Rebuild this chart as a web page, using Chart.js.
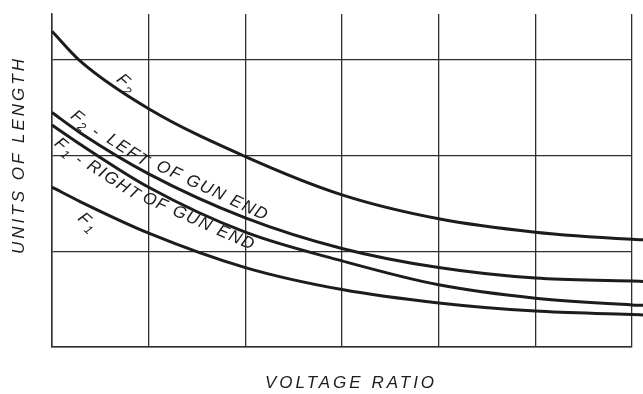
<!DOCTYPE html>
<html>
<head>
<meta charset="utf-8">
<script src="https://cdn.jsdelivr.net/npm/chart.js@4.4.1/dist/chart.umd.min.js"></script>
<style>
  html, body { margin: 0; padding: 0; background: #fff; }
  #wrap { width: 643px; height: 394px; }
</style>
</head>
<body>
<div id="wrap"><canvas id="myChart" width="643" height="394"></canvas></div>
<script>
// voltage ratio positions (grid columns 0..6, last point runs just past the frame)
const ratio = [0, 0.29, 1, 2, 3, 4, 5, 6, 6.12];

// lengths read per curve at each ratio
const f2 = [3.30, 2.99, 2.49, 1.99, 1.59, 1.34, 1.20, 1.125, 1.12];
const f2Left = [2.45, 2.24, 1.81, 1.35, 1.03, 0.83, 0.72, 0.69, 0.685];
const f1Right = [2.32, 2.12, 1.67, 1.20, 0.90, 0.65, 0.51, 0.44, 0.435];
const f1 = [1.67, 1.52, 1.19, 0.83, 0.60, 0.46, 0.375, 0.34, 0.335];

const yTicks = [0, 1, 2, 3];

// curve captions: pieces starting with "_" are subscripts
const captions = [
  { parts: ["F", "_2"], x: 0.77, y: 2.75, angle: 42 },
  { parts: ["F", "_2", " -"], x: 0.35, y: 2.33, angle: 38 },
  { parts: ["LEFT"], x: 0.79, y: 2.05, angle: 33 },
  { parts: ["OF GUN END"], x: 1.66, y: 1.63, angle: 25 },
  { parts: ["F", "_1", " -"], x: 0.18, y: 2.04, angle: 40 },
  { parts: ["RIGHT"], x: 0.64, y: 1.74, angle: 33 },
  { parts: ["OF GUN END"], x: 1.52, y: 1.31, angle: 24 },
  { parts: ["F", "_1"], x: 0.37, y: 1.30, angle: 42 }
];

const ink = "#1c1c1c";
const FONT = "'Liberation Sans', Arial, sans-serif";

function series(values) {
  return {
    data: ratio.map((r, i) => ({ x: r, y: values[i] })),
    borderColor: ink,
    borderWidth: 3,
    pointRadius: 0,
    cubicInterpolationMode: "monotone",
    fill: false,
    clip: false
  };
}

function drawParts(ctx, parts, size) {
  // measure first so the caption is centred on its anchor
  let total = 0;
  const widths = parts.map(p => {
    const sub = p.startsWith("_");
    ctx.font = "italic " + (sub ? size * 0.72 : size) + "px " + FONT;
    const w = ctx.measureText(sub ? p.slice(1) : p).width;
    total += w;
    return w;
  });
  let x = -total / 2;
  parts.forEach((p, i) => {
    const sub = p.startsWith("_");
    ctx.font = "italic " + (sub ? size * 0.72 : size) + "px " + FONT;
    ctx.fillText(sub ? p.slice(1) : p, x, sub ? size * 0.32 : 0);
    x += widths[i];
  });
}

const labelsPlugin = {
  id: "labels",
  afterDraw(chart) {
    const { ctx, scales, chartArea } = chart;
    ctx.save();
    ctx.fillStyle = ink;
    ctx.textBaseline = "middle";
    ctx.textAlign = "left";
    ctx.letterSpacing = "1.5px";
    captions.forEach(c => {
      ctx.save();
      ctx.translate(scales.x.getPixelForValue(c.x), scales.y.getPixelForValue(c.y));
      ctx.rotate(c.angle * Math.PI / 180);
      drawParts(ctx, c.parts, 17);
      ctx.restore();
    });

    // axis titles
    ctx.letterSpacing = "3px";
    ctx.font = "italic 17px " + FONT;
    ctx.textAlign = "center";
    ctx.fillText("VOLTAGE RATIO", (chartArea.left + chartArea.right) / 2 + 9, 383);
    ctx.save();
    ctx.translate(19, 155);
    ctx.rotate(-Math.PI / 2);
    ctx.fillText("UNITS OF LENGTH", 0, 0);
    ctx.restore();
    ctx.restore();
  }
};

new Chart(document.getElementById("myChart").getContext("2d"), {
  type: "line",
  data: {
    datasets: [series(f2), series(f2Left), series(f1Right), series(f1)]
  },
  options: {
    responsive: false,
    animation: false,
    layout: { padding: { left: 52, right: 11, top: 14, bottom: 47 } },
    plugins: { legend: { display: false }, tooltip: { enabled: false } },
    scales: {
      x: {
        type: "linear",
        // range set after data limits so the last point past 6 is still drawn
        afterDataLimits(scale) {
          scale.min = 0;
          scale.max = 6;
        },
        ticks: { display: false, stepSize: 1 },
        grid: { color: "#2e2e2e", lineWidth: 1.3, drawTicks: false },
        border: { color: "#2e2e2e", width: 1.5 }
      },
      y: {
        min: 0,
        max: 3.48,
        afterBuildTicks(scale) {
          scale.ticks = yTicks.map(v => ({ value: v }));
        },
        ticks: { display: false },
        grid: { color: "#2e2e2e", lineWidth: 1.3, drawTicks: false },
        border: { color: "#2e2e2e", width: 1.5 }
      }
    }
  },
  plugins: [labelsPlugin]
});
</script>
</body>
</html>
